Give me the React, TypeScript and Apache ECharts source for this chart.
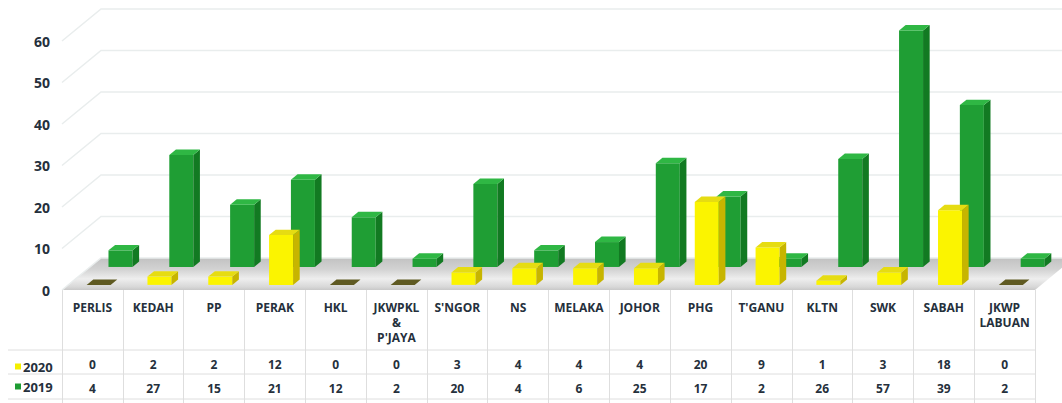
import React, { useEffect, useRef } from "react";
import * as echarts from "echarts";

const categories = [
  "PERLIS", "KEDAH", "PP", "PERAK", "HKL", "JKWPKL & P'JAYA", "S'NGOR", "NS",
  "MELAKA", "JOHOR", "PHG", "T'GANU", "KLTN", "SWK", "SABAH", "JKWP LABUAN",
];
const values2020 = [0, 2, 2, 12, 0, 0, 3, 4, 4, 4, 20, 9, 1, 3, 18, 0];
const values2019 = [4, 27, 15, 21, 12, 2, 20, 4, 6, 25, 17, 2, 26, 57, 39, 2];
const yTicks = [0, 10, 20, 30, 40, 50, 60];
const seriesNames = ["2020", "2019"];

const DX = 39;
const DY = -32;
const DEPTH = 0.17;
const HALF_W = 12;
const TEXT = "#25303c";
const FONT = "'Open Sans', 'Noto Sans', sans-serif";

function barRenderer(zf: number, front: string, side: string, top: string, zeroTop: string) {
  return (params: any, api: any) => {
    const i = api.value(0);
    const v = api.value(1);
    const base = api.coord([i, 0]);
    const tp = api.coord([i, v]);
    const cx = base[0] + zf * DX;
    const yb = base[1] + zf * DY;
    const yt = tp[1] + zf * DY;
    const dx = DEPTH * DX;
    const dy = DEPTH * DY;
    const l = cx - HALF_W;
    const r = cx + HALF_W;
    const children: any[] = [];
    if (v > 0) {
      children.push({
        type: "rect",
        shape: { x: l, y: yt, width: r - l, height: yb - yt },
        style: { fill: front },
      });
      children.push({
        type: "polygon",
        shape: { points: [[r, yt], [r + dx, yt + dy], [r + dx, yb + dy], [r, yb]] },
        style: { fill: side },
      });
    }
    children.push({
      type: "polygon",
      shape: { points: [[l, yt], [r, yt], [r + dx, yt + dy], [l + dx, yt + dy]] },
      style: { fill: v > 0 ? top : zeroTop },
    });
    return { type: "group", children };
  };
}

export default function App() {
  const ref = useRef<HTMLDivElement>(null);
  useEffect(() => {
    document.body.style.margin = "0";
    if (!ref.current) return;
    const chart = echarts.init(ref.current, undefined, { renderer: "svg" });
    const valueAxis = (vals: number[], offset: number) => ({
      type: "category",
      data: categories,
      gridIndex: 0,
      position: "bottom",
      offset,
      axisLine: { show: false },
      axisTick: { show: false },
      axisLabel: {
        interval: 0,
        margin: 7,
        fontSize: 12,
        fontWeight: "bold",
        fontFamily: FONT,
        color: TEXT,
        lineHeight: 14,
        formatter: (_: string, idx: number) => String(vals[idx]),
      },
    });
    chart.setOption({
      animation: false,
      backgroundColor: "#ffffff",
      grid: { left: 62, right: 27, top: 41, bottom: 113 },
      legend: {
        data: seriesNames,
        orient: "vertical",
        left: 10,
        top: 355,
        itemWidth: 6,
        itemHeight: 6,
        itemGap: 7,
        icon: "rect",
        selectedMode: false,
        textStyle: { fontSize: 13, fontWeight: "bold", color: TEXT, fontFamily: FONT, padding: [0, 0, 0, -3] },
      },
      xAxis: [
        {
          type: "category",
          data: categories,
          position: "bottom",
          axisLine: { show: false },
          axisTick: { show: true, length: 113, lineStyle: { color: "#dedede", width: 1 } },
          axisLabel: {
            interval: 0,
            margin: 10,
            fontSize: 12,
            fontWeight: "bold",
            fontFamily: FONT,
            color: TEXT,
            lineHeight: 15,
            formatter: (s: string) => s.split(" ").join("\n"),
          },
        },
        valueAxis(values2020, 60),
        valueAxis(values2019, 84),
      ],
      yAxis: {
        type: "value",
        min: 0,
        max: 60,
        interval: 10,
        axisLine: { show: false },
        axisTick: { show: false },
        splitLine: { show: false },
        axisLabel: { fontSize: 14, fontWeight: "bold", fontFamily: FONT, color: TEXT, margin: 12 },
      },
      graphic: [
        { type: "line", shape: { x1: 8, y1: 350, x2: 1035, y2: 350 }, style: { stroke: "#dedede", lineWidth: 1 } },
        { type: "line", shape: { x1: 8, y1: 374, x2: 1035, y2: 374 }, style: { stroke: "#dedede", lineWidth: 1 } },
        { type: "line", shape: { x1: 8, y1: 399, x2: 1035, y2: 399 }, style: { stroke: "#dedede", lineWidth: 1 } },
      ],
      series: [
        {
          type: "custom",
          name: "floor",
          silent: true,
          data: [[0, 0]],
          renderItem: (params: any, api: any) => {
            const bw = api.size([1, 0])[0];
            const a = api.coord([0, 0]);
            const b = api.coord([categories.length - 1, 0]);
            const l = a[0] - bw / 2;
            const r = b[0] + bw / 2;
            const y = a[1];
            return {
              type: "polygon",
              shape: { points: [[l, y], [r, y], [r + DX, y + DY], [l + DX, y + DY]] },
              style: {
                fill: new echarts.graphic.LinearGradient(0, 0, 0, 1, [
                  { offset: 0, color: "#c2c2c2" },
                  { offset: 0.35, color: "#d2d2d2" },
                  { offset: 0.65, color: "#eeeeee" },
                  { offset: 0.9, color: "#d8d8d8" },
                  { offset: 1, color: "#c8c8c8" },
                ]),
              },
            };
          },
        },
        {
          type: "custom",
          name: "wall",
          silent: true,
          data: yTicks.map((v) => [0, v]),
          renderItem: (params: any, api: any) => {
            const bw = api.size([1, 0])[0];
            const p = api.coord([0, api.value(1)]);
            const l = p[0] - bw / 2;
            return {
              type: "polyline",
              shape: { points: [[l, p[1]], [l + DX, p[1] + DY], [api.getWidth(), p[1] + DY]] },
              style: { stroke: "#e9eded", lineWidth: 1.5, fill: "none" },
            };
          },
        },
        {
          type: "custom",
          name: "2019",
          itemStyle: { color: "#1e9c33" },
          data: values2019.map((v, i) => [i, v]),
          encode: { x: 0, y: 1 },
          renderItem: barRenderer(0.72, "#1f9e34", "#127a22", "#2fb744", "#0f6a1c"),
        },
        {
          type: "custom",
          name: "2020",
          itemStyle: { color: "#f5ef00" },
          data: values2020.map((v, i) => [i, v]),
          encode: { x: 0, y: 1 },
          renderItem: barRenderer(0.16, "#fbf400", "#c7b500", "#e6dc12", "#5f5a22"),
        },
      ],
    });
    return () => chart.dispose();
  }, []);
  return <div ref={ref} style={{ width: 1062, height: 403 }} />;
}
